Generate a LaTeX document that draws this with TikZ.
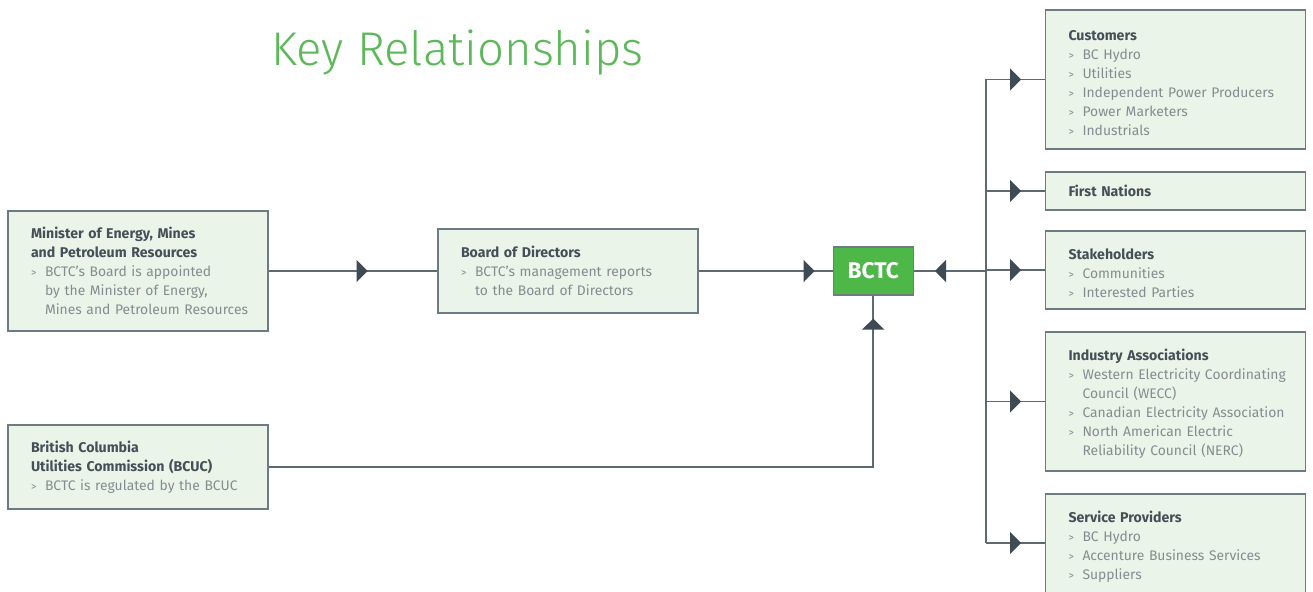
\documentclass[tikz,border=0pt]{standalone}
\usepackage{fontspec}
\setmainfont{Fira Sans}
\newfontfamily\titlefont{Fira Sans Light}
\usetikzlibrary{arrows.meta, positioning, decorations.markings}
\definecolor{boxfill}{HTML}{EAF4E8}
\definecolor{boxline}{HTML}{6F7B82}
\definecolor{wire}{HTML}{5E6A72}
\definecolor{tipcol}{HTML}{3E4A54}
\definecolor{headcol}{HTML}{444F58}
\definecolor{itemcol}{HTML}{858C91}
\definecolor{bctcgreen}{HTML}{4DB748}
\definecolor{titlegreen}{HTML}{5DB85A}
\newcommand{\hd}[1]{{\parindent=0pt\leftskip=17.25pt\fontsize{10.6}{14.25}\selectfont\bfseries\color{headcol}#1\par}}
\newcommand{\itm}[1]{{\parindent=0pt\leftskip=17.25pt\color{itemcol}\hangindent=10.5pt\hangafter=1\makebox[10.5pt][l]{\footnotesize>}#1\par}}

\begin{document}
\begin{tikzpicture}[x=0.75pt, y=-0.75pt,
    box/.style={draw=boxline, line width=0.9pt, fill=boxfill, text width=195pt, inner xsep=0pt, inner ysep=0pt, font=\fontsize{10.4}{14.25}\selectfont},
    rbox/.style={box, execute at begin node={\rule{0pt}{12.5pt}}},
    link/.style={draw=wire, line width=1.1pt},
    tipat/.style={postaction={decorate}, decoration={markings, mark=at position #1 with {\arrow[tipcol]{Triangle[length=8.25pt,width=16.5pt]}}}},
    node distance=16.35pt]
    \clip (0,0) rectangle (1313,592);
    \node[anchor=base west, inner sep=0pt, text=titlegreen, font=\titlefont\fontsize{35.5}{40}\selectfont] (title) at (271,65) {Key Relationships};
    % left side
    \node[box, minimum height=90pt] (minister) at (138,271) {\hd{Minister of Energy, Mines\newline and Petroleum Resources}\itm{BCTC’s Board is appointed\newline by the Minister of Energy,\newline Mines and Petroleum Resources}};
    \node[box, minimum height=63pt, right=126.6pt of minister] (board) {\hd{Board of Directors}\itm{BCTC’s management reports\newline to the Board of Directors}};
    \node[draw=boxline, line width=0.9pt, fill=bctcgreen, text=white, minimum width=60pt, minimum height=36pt, font=\bfseries\fontsize{17}{20}\selectfont, right=100.5pt of board] (bctc) {BCTC};
    \node[box, minimum height=63pt] (bcuc) at (138,467) {\hd{British Columbia\newline Utilities Commission (BCUC)}\itm{BCTC is regulated by the BCUC}};
    % right column
    \node[rbox, minimum height=104.25pt] (cust) at (1175.5,79.5) {\hd{Customers}\itm{BC Hydro}\itm{Utilities}\itm{Independent Power Producers}\itm{Power Marketers}\itm{Industrials}};
    \node[box, minimum height=28.5pt, below=of cust] (fn) {\hd{First Nations}};
    \node[rbox, minimum height=58.5pt, below=14.85pt of fn] (stake) {\hd{Stakeholders}\itm{Communities}\itm{Interested Parties}};
    \node[rbox, minimum height=104.25pt, below=of stake] (ind) {\hd{Industry Associations}\itm{Western Electricity Coordinating\newline Council (WECC)}\itm{Canadian Electricity Association}\itm{North American Electric\newline Reliability Council (NERC)}};
    \node[rbox, minimum height=75pt, below=of ind] (sp) {\hd{Service Providers}\itm{BC Hydro}\itm{Accenture Business Services}\itm{Suppliers}};
    % connectors
    \coordinate (jn) at (986,271);
    \coordinate (tbot) at (986,543);
    \draw[link, tipat=74.25pt] (minister) -- (board);
    \draw[link, tipat=87pt] (board) -- (bctc);
    \draw[link, tipat=38.25pt] (jn) -- (bctc);
    \draw[link] (jn |- cust) -- (tbot);
    \foreach \n in {cust, fn, stake, ind}
        \draw[link, tipat=26.25pt] (jn |- \n.west) -- (\n.west);
    \draw[link, tipat=26.25pt] (tbot) -- (tbot -| sp.west);
    \draw[link, tipat=-17.25pt] (bcuc.east) -| (bctc.south);
\end{tikzpicture}
\end{document}
